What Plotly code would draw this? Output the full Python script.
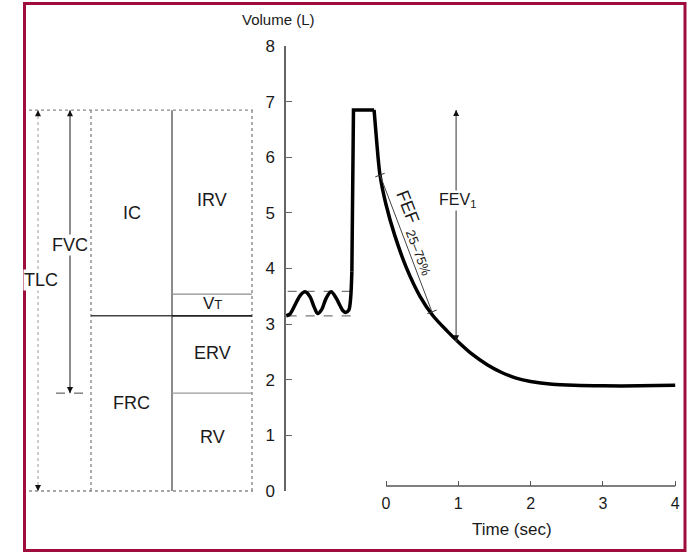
import plotly.graph_objects as go

# ---------------- data ----------------
# Left block diagram: lung volumes (L)
TLC = 6.85          # total lung capacity (top of diagram)
VT_TOP = 3.54       # end-inspiratory tidal level
FRC = 3.15          # functional residual capacity
RV = 1.76           # residual volume
volume_ticks = [0, 1, 2, 3, 4, 5, 6, 7, 8]
time_ticks = [0, 1, 2, 3, 4]

# Spirogram: quiet breathing, then maximal inspiration and forced expiration
wave_t = [-1.38, -1.33, -1.26, -1.19, -1.12, -1.05, -0.995, -0.945, -0.89,
          -0.83, -0.76, -0.69, -0.635, -0.595, -0.555, -0.515, -0.49, -0.472]
wave_v = [3.15, 3.18, 3.34, 3.51, 3.58, 3.49, 3.31, 3.19, 3.26,
          3.46, 3.58, 3.47, 3.33, 3.24, 3.21, 3.25, 3.45, 3.95]
rise_t = [-0.472, -0.458, -0.45, -0.165]
rise_v = [3.95, 5.6, 6.85, 6.85]
decay_t = [-0.165, -0.13, -0.085, 0.0, 0.12, 0.28, 0.47, 0.65, 0.85, 1.0,
           1.2, 1.4, 1.6, 1.8, 2.0, 2.3, 2.6, 3.0, 3.5, 4.0]
decay_v = [6.85, 6.3, 5.7, 5.15, 4.6, 4.02, 3.5, 3.15, 2.87, 2.68,
           2.45, 2.27, 2.13, 2.03, 1.97, 1.92, 1.9, 1.89, 1.89, 1.9]
fef_t = [-0.083, 0.636]      # FEF 25-75% chord end points
fef_v = [5.68, 3.22]
fev1_t = 0.97
fev1_v = [6.85, 2.69]
tidal_band_t = [-1.36, -0.47]

# ---------------- layout constants (pixel geometry) ----------------
W, H = 693, 554
PX_T0, PX_PER_S = 386.0, 72.3
PX_V0, PX_PER_L = 491.0, 55.6
AX_LEFT, AX_RIGHT = 286.0, 686.0
PX_V8 = 46.0
TIME_AXIS_PX = 486.0

# left diagram x positions (pixel-like units on xaxis2)
LX = dict(left=29, tlc=38, fvc=70, c0=91, c1=172, c2=252, right=253,
          dash0=56, dash1=86)

FONT = "Liberation Sans, Arial, Helvetica, sans-serif"
INK = "#1a1a1a"
GRAY = "#8a8a8a"

fig = go.Figure()

def seg(xs, ys, color, width, dash="solid", axes=("x2", "y2")):
    fig.add_trace(go.Scatter(x=xs, y=ys, mode="lines", xaxis=axes[0], yaxis=axes[1],
                             line=dict(color=color, width=width, dash=dash),
                             hoverinfo="skip", showlegend=False))

# ---- left diagram ----
seg([LX["left"], LX["right"]], [TLC, TLC], GRAY, 1.4, "dot")
seg([LX["left"], LX["right"]], [0, 0], GRAY, 1.4, "dot")
seg([LX["c0"], LX["c0"]], [0, TLC], GRAY, 1.4, "dot")
seg([LX["c2"], LX["c2"]], [0, TLC], GRAY, 1.4, "dot")
seg([LX["c1"], LX["c1"]], [0, TLC], "#666666", 1.5)
seg([LX["c0"], LX["c1"]], [FRC, FRC], "#444444", 1.5)
seg([LX["c1"], LX["c2"]], [VT_TOP, VT_TOP], "#8f8f8f", 1.2)
seg([LX["c1"], LX["c2"]], [FRC, FRC], "#222222", 1.8)
seg([LX["c1"], LX["c2"]], [RV, RV], "#9a9a9a", 1.2)
seg([LX["tlc"], LX["tlc"]], [0, TLC], "#9a9a9a", 1.0, "dot")
seg([LX["fvc"], LX["fvc"]], [RV, TLC], "#707070", 1.6)
seg([LX["dash0"], LX["dash1"]], [RV, RV], "#444444", 1.0, "dash")

# ---- spirogram ----
seg(tidal_band_t, [VT_TOP + 0.05, VT_TOP + 0.05], "#777777", 1.2, "dash", ("x", "y"))
seg(tidal_band_t, [FRC, FRC], "#777777", 1.2, "dash", ("x", "y"))
fig.add_trace(go.Scatter(x=wave_t, y=wave_v, mode="lines", line=dict(color="black", width=3.5, shape="spline", smoothing=0.9),
                         hoverinfo="skip", showlegend=False))
fig.add_trace(go.Scatter(x=rise_t, y=rise_v, mode="lines", line=dict(color="black", width=3.5),
                         hoverinfo="skip", showlegend=False))
fig.add_trace(go.Scatter(x=decay_t, y=decay_v, mode="lines", line=dict(color="black", width=3.5, shape="spline", smoothing=0.8),
                         hoverinfo="skip", showlegend=False))
seg(fef_t, fef_v, "#444444", 1.0, "solid", ("x", "y"))
seg([fev1_t, fev1_t], fev1_v, "#777777", 1.5, "solid", ("x", "y"))

shapes = []
# perpendicular end ticks on FEF chord
for t, v in zip(fef_t, fef_v):
    shapes.append(dict(type="line", xref="x", yref="y", xsizemode="pixel", ysizemode="pixel",
                       xanchor=t, yanchor=v, x0=-4.7, x1=4.7, y0=-1.8, y1=1.8,
                       line=dict(color="#333333", width=1)))
# time axis line (t = 0 .. 4)
shapes.append(dict(type="line", xref="x", yref="paper", x0=time_ticks[0], x1=time_ticks[-1],
                   y0=1 - TIME_AXIS_PX / H, y1=1 - TIME_AXIS_PX / H,
                   line=dict(color="#555555", width=1.4)))
# frame
shapes.append(dict(type="rect", xref="paper", yref="paper", x0=24.5 / W, x1=685 / W,
                   y0=1 - 550.5 / H, y1=1 - 3.5 / H, line=dict(color="#9e0d3c", width=3)))

ann = []
def label(x, y, text, size=18, xref="x2", yref="y2", bg=None, angle=0):
    d = dict(x=x, y=y, xref=xref, yref=yref, text=text, showarrow=False,
             xanchor="center", yanchor="middle",
             font=dict(family=FONT, size=size, color=INK), textangle=angle)
    if bg:
        d.update(bgcolor=bg, borderpad=0)
    ann.append(d)

def head(x, y, up, xref="x2", yref="y2"):
    ann.append(dict(x=x, y=y, xref=xref, yref=yref, text="", showarrow=True,
                    ax=0, ay=7 if up else -7, arrowhead=2, arrowsize=1.1, arrowwidth=1.1,
                    arrowcolor="#111111"))

mid_c0 = (LX["c0"] + LX["c1"]) / 2
mid_c1 = (LX["c1"] + LX["c2"]) / 2
label(mid_c0, (TLC + FRC) / 2, "IC")
label(mid_c0, FRC / 2, "FRC")
label(mid_c1, (TLC + VT_TOP) / 2 + 0.04, "IRV")
label(mid_c1, (VT_TOP + FRC) / 2 + 0.02, "V<span style='font-size:13px'>T</span>", size=17)
label(mid_c1, (FRC + RV) / 2 + 0.03, "ERV")
label(mid_c1, RV / 2 + 0.09, "RV")
label(LX["fvc"], 4.42, "FVC", bg="white")
label(41, 3.79, "TLC", bg="white")
head(LX["tlc"], TLC, True)
head(LX["tlc"], 0, False)
head(LX["fvc"], TLC, True)
head(LX["fvc"], RV, False)

head(fev1_t, fev1_v[0], True, "x", "y")
head(fev1_t, fev1_v[1], False, "x", "y")
label(fev1_t + 0.015, 5.23, "FEV<sub>1</sub>", size=16, xref="x", yref="y", bg="white")
label(0.304, 5.11, "FEF", size=18, xref="x", yref="y", angle=69)
label(0.443, 4.28, "25–75%", size=13, xref="x", yref="y", angle=69)

label(278 / W, 1 - 19 / H, "Volume (L)", size=15, xref="paper", yref="paper")
label(512 / W, 1 - 529 / H, "Time (sec)", size=17, xref="paper", yref="paper")

fig.update_layout(
    width=W, height=H, margin=dict(l=0, r=0, t=0, b=0, pad=0, autoexpand=False),
    paper_bgcolor="white", plot_bgcolor="white",
    showlegend=False, shapes=shapes, annotations=ann,
    xaxis=dict(domain=[AX_LEFT / W, AX_RIGHT / W], automargin=False,
               range=[(AX_LEFT - PX_T0) / PX_PER_S, (AX_RIGHT - PX_T0) / PX_PER_S],
               anchor="free", position=1 - TIME_AXIS_PX / H, showline=False,
               showgrid=False, zeroline=False, tickmode="array", tickvals=time_ticks,
               ticktext=[str(t) for t in time_ticks], ticks="inside", ticklen=5,
               tickwidth=1.3, tickcolor="#555555", ticklabelstandoff=6,
               tickfont=dict(family=FONT, size=16, color=INK)),
    yaxis=dict(domain=[1 - PX_V0 / H, 1 - PX_V8 / H], range=[0, 8], anchor="x",
               automargin=False,
               showline=True, linecolor="#666666", linewidth=1.5, showgrid=False,
               zeroline=False, tickmode="array", tickvals=volume_ticks,
               ticks="inside", ticklen=6, tickwidth=1.3, tickcolor="#666666",
               ticklabelstandoff=6, tickfont=dict(family=FONT, size=17, color=INK)),
    xaxis2=dict(domain=[0, AX_LEFT / W], range=[0, AX_LEFT], anchor="y2", visible=False,
                automargin=False),
    yaxis2=dict(domain=[0, 1], range=[(PX_V0 - H) / PX_PER_L, PX_V0 / PX_PER_L],
                anchor="x2", visible=False, automargin=False),
)

fig.write_html("out.html")
